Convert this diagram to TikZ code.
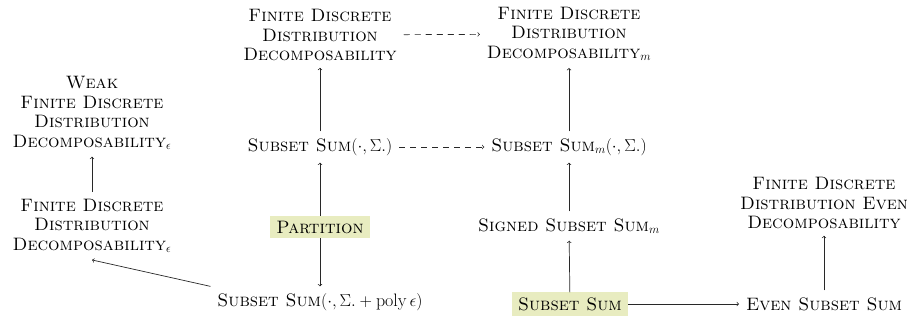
\documentclass[tikz,border=0pt]{standalone}
\usepackage{fontspec}
\usepackage{amsmath}
\definecolor{hlfill}{RGB}{232,236,192}
\definecolor{edge}{RGB}{40,40,40}
\newcommand{\probfont}{\fontsize{18}{19.5}\selectfont}
\tikzset{
  prob/.style={align=center, font=\probfont, inner sep=2pt, outer sep=5pt},
  hilite/.style={prob, fill=hlfill, inner xsep=6pt, inner ysep=5pt, outer sep=0pt},
  red/.style={->, >=to, draw=edge, line width=0.7pt},
  weakred/.style={red, dash pattern=on 6pt off 5pt}
}
\begin{document}
\begin{tikzpicture}[x=1pt,y=-1pt]
  \useasboundingbox (0,0) rectangle (909,322);

  % left column
  \node[prob] (wfdd) at (92,113) {\textsc{Weak}\\\textsc{Finite Discrete}\\\textsc{Distribution}\\\textsc{Decomposability}$_\epsilon$};
  \node[prob] (fdde) at (92,226) {\textsc{Finite Discrete}\\\textsc{Distribution}\\\textsc{Decomposability}$_\epsilon$};

  % middle column
  \node[prob] (fdd) at (320,35) {\textsc{Finite Discrete}\\\textsc{Distribution}\\\textsc{Decomposability}};
  \node[prob] (ssig) at (320,147) {\textsc{Subset Sum}$(\cdot,\Sigma.)$};
  \node[hilite] (part) at (320,227) {\textsc{Partition}};
  \node[prob] (spoly) at (320,302) {\textsc{Subset Sum}$(\cdot,\Sigma.+\operatorname{poly}\epsilon)$};

  % right-middle column
  \node[prob] (fddm) at (569,34) {\textsc{Finite Discrete}\\\textsc{Distribution}\\\textsc{Decomposability}$_m$};
  \node[prob] (ssm) at (569,147) {\textsc{Subset Sum}$_m(\cdot,\Sigma.)$};
  \node[prob] (sssm) at (569,226) {\textsc{Signed Subset Sum}$_m$};
  \node[hilite] (ss) at (570,304) {\textsc{Subset Sum}};

  % right column
  \node[prob] (fddev) at (824,203) {\textsc{Finite Discrete}\\\textsc{Distribution Even}\\\textsc{Decomposability}};
  \node[prob] (ess) at (824,304) {\textsc{Even Subset Sum}};

  % reductions
  \draw[red] (fdde) -- (wfdd);
  \draw[red] (spoly.north west) -- (fdde.south);
  \draw[red] (part) -- (ssig);
  \draw[red] (part) -- (spoly);
  \draw[red] (ssig) -- (fdd);
  \draw[weakred] (fdd) -- (fddm);
  \draw[weakred] (ssig) -- (ssm);
  \draw[red] (ssm) -- (fddm);
  \draw[red] (sssm) -- (ssm);
  \draw[red] (ss) -- (sssm);
  \draw[red] (ss) -- (ess);
  \draw[red] (ess) -- (fddev);
\end{tikzpicture}
\end{document}
